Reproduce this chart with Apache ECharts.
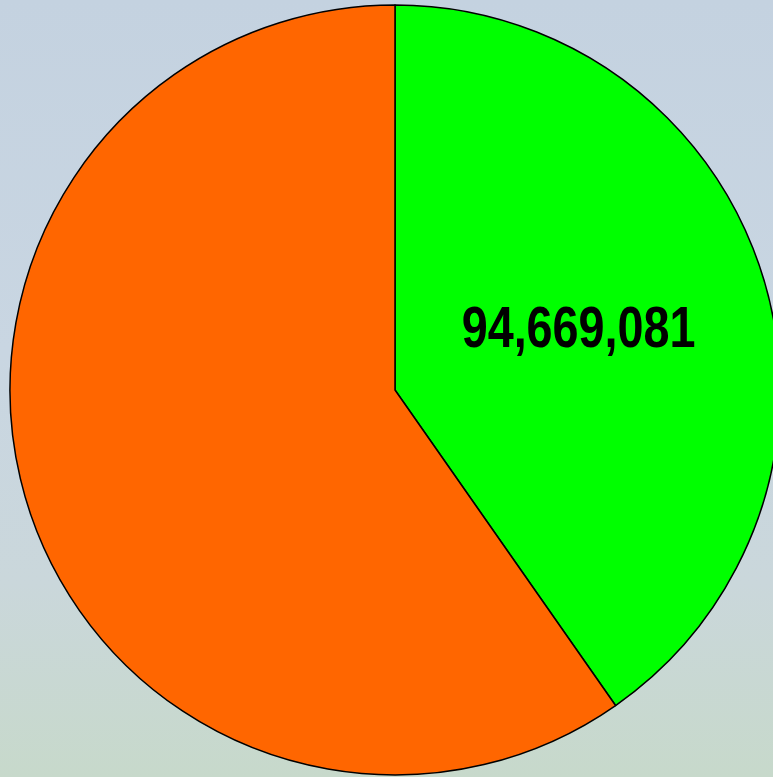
<!DOCTYPE html>
<html>
<head>
<meta charset="utf-8">
<script src="https://cdn.jsdelivr.net/npm/echarts@6/dist/echarts.min.js"></script>
<style>
html,body{margin:0;padding:0;width:773px;height:777px;overflow:hidden;}
body{background:linear-gradient(to bottom,#c4d2e0 0%,#c9d6e2 45%,#cad7db 75%,#c7d9cb 100%);}
#chart{width:773px;height:777px;}
</style>
</head>
<body>
<div id="chart"></div>
<script>
var categories = ['Green', 'Orange'];
var values = [94669081, 140300000];
var colors = ['#00ff00', '#ff6600'];
var labelTexts = ['94,669,081', ''];

var CX = 395, CY = 390, R = 385;

var chart = echarts.init(document.getElementById('chart'), null, {renderer: 'canvas'});
var data = categories.map(function (c, i) {
  return {
    name: c,
    value: values[i],
    itemStyle: {color: colors[i]}
  };
});
chart.setOption({
  backgroundColor: 'transparent',
  animation: false,
  series: [{
    type: 'pie',
    center: [CX, CY],
    radius: [0, R],
    startAngle: 90,
    clockwise: true,
    avoidLabelOverlap: false,
    itemStyle: {borderColor: '#000', borderWidth: 1.5},
    label: {show: false},
    labelLine: {show: false},
    emphasis: {disabled: true},
    data: data
  }]
});

function midPoint(i) {
  var lay = null;
  try {
    lay = chart.getModel().getSeriesByIndex(0).getData().getItemLayout(i);
  } catch (e) { lay = null; }
  if (lay && isFinite(lay.startAngle) && isFinite(lay.endAngle) && isFinite(lay.cx)) {
    var m = (lay.startAngle + lay.endAngle) / 2;
    var rr = (lay.r + (lay.r0 || 0)) / 2;
    return [lay.cx + rr * Math.cos(m), lay.cy + rr * Math.sin(m)];
  }
  var total = values.reduce(function (a, b) { return a + b; }, 0);
  var before = 0;
  for (var k = 0; k < i; k++) before += values[k];
  var a0 = -Math.PI / 2 + before / total * 2 * Math.PI;
  var a1 = a0 + values[i] / total * 2 * Math.PI;
  var mm = (a0 + a1) / 2;
  return [CX + R / 2 * Math.cos(mm), CY + R / 2 * Math.sin(mm)];
}

var graphics = [];
labelTexts.forEach(function (t, i) {
  if (!t) return;
  var p = midPoint(i);
  graphics.push({
    type: 'text',
    x: p[0],
    y: p[1] - 1,
    scaleX: 0.82,
    silent: true,
    z: 100,
    style: {
      text: t,
      fill: '#000',
      fontFamily: '"Liberation Sans", Arial, sans-serif',
      fontWeight: 'bold',
      fontSize: 57,
      align: 'center',
      verticalAlign: 'middle'
    }
  });
});
chart.setOption({graphic: {elements: graphics}});
</script>
</body>
</html>
